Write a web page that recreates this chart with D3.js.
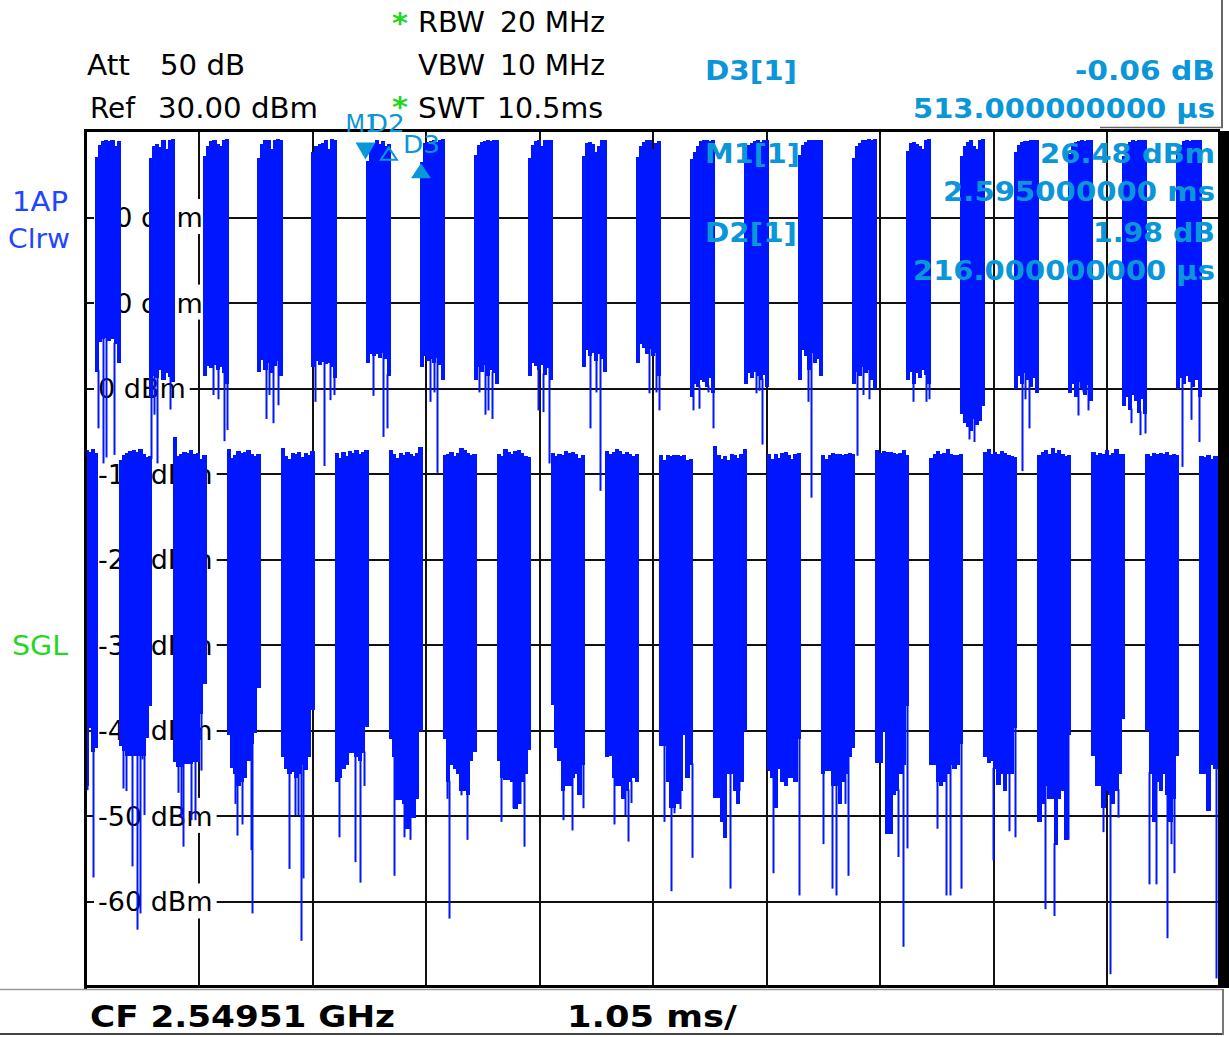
<!DOCTYPE html>
<html>
<head>
<meta charset="utf-8">
<script src="https://cdn.jsdelivr.net/npm/d3@7"></script>
<style>
  html, body { margin: 0; padding: 0; background: #fff; }
  svg { display: block; }
  text { font-family: "DejaVu Sans", Verdana, sans-serif; }
</style>
</head>
<body>
<svg id="chart" width="1229" height="1037"></svg>
<script>
// ---- Zero-span sweep: 10.5 ms, level axis -70 .. +30 dBm ----
const SWEEP_MS = [0, 10.5];
const LEVEL_DBM = [-70, 30];
const X_GRID_MS = [1.05, 2.1, 3.15, 4.2, 5.25, 6.3, 7.35, 8.4, 9.45];
const Y_GRID_DBM = [20, 10, 0, -10, -20, -30, -40, -50, -60];

// Strong bursts: [start ms, end ms]
const HIGH_SPAN = [[0.095,0.32],[0.595,0.82],[1.095,1.32],[1.595,1.82],[2.095,2.32],[2.595,2.82],[3.095,3.32],
  [3.595,3.82],[4.095,4.32],[4.595,4.82],[5.095,5.32],[5.595,5.82],[6.095,6.32],[6.595,6.82],[7.095,7.32],
  [7.595,7.82],[8.095,8.32],[8.595,8.82],[9.095,9.32],[9.595,9.82],[10.095,10.32]];
// Peak level of each column inside a strong burst (dBm)
const HIGH_TOP = [
  [27.0,28.4,28.8,28.9,28.8,28.9,28.3,28.8],[26.8,28.3,28.5,28.1,28.9,27.9,29.0,29.1],
  [27.1,28.3,28.8,28.9,28.5,28.3,29.0,29.1],[26.9,28.5,28.9,28.9,27.9,29.0,29.1,29.0],
  [27.6,28.2,28.5,28.6,28.9,27.9,29.1,29.0],[26.48,28.3,28.6,28.9,28.5,28.8,28.2,28.46],
  [26.42,28.6,28.7,28.8,28.9,28.7,29.0,29.1],[27.2,28.4,28.7,28.8,28.9,28.8,28.9,29.0],
  [26.9,28.4,28.8,28.9,28.2,28.9,29.0,29.0],[27.1,28.6,28.7,28.5,27.6,28.3,29.0,29.0],
  [27.0,28.2,28.7,28.9,28.9,27.9,28.6,28.8],[26.7,27.5,28.3,28.8,28.9,28.9,28.8,29.0],
  [27.0,28.4,28.6,28.8,28.9,28.7,28.9,29.0],[27.2,28.4,28.7,28.9,28.9,29.0,28.9,29.0],
  [26.9,28.2,28.6,28.9,29.0,29.1,29.0,29.1],[27.7,28.6,28.7,28.5,28.3,27.9,29.0,29.1],
  [27.1,28.3,28.7,28.9,28.2,27.9,29.0,29.1],[27.6,28.4,28.7,28.8,28.8,28.9,28.9,28.9],
  [27.3,28.3,28.7,28.8,28.9,28.8,28.9,29.0],[27.1,28.5,28.7,28.9,28.8,28.9,29.0,28.9],
  [27.2,28.4,28.8,28.9,28.8,28.9,28.9,29.0]];
// Minimum level of each column inside a strong burst (dBm)
const HIGH_FLOOR = [
  [2.0,5.5,5.8,5.9,5.6,5.8,5.2,3.0],[-1.0,1.5,1.2,2.2,1.0,1.8,1.4,0.8],
  [1.5,2.6,2.4,2.8,2.2,2.5,1.8,0.5],[2.0,3.4,2.2,3.0,1.8,2.6,3.2,1.5],
  [2.5,3.2,2.8,3.1,2.9,3.0,2.5,1.2],[3.0,4.1,3.8,4.0,3.6,4.2,3.5,1.5],
  [2.5,3.8,3.2,3.5,3.0,3.6,2.8,1.0],[1.0,2.5,2.0,2.8,1.5,2.2,1.8,0.5],
  [1.5,3.0,2.6,2.2,2.8,1.6,2.4,1.0],[2.5,4.5,3.8,4.2,3.2,4.0,3.5,2.0],
  [3.0,5.2,4.8,4.0,4.6,3.8,4.2,1.5],[-1.0,0.5,0.2,1.0,0.8,0.2,1.2,-0.5],
  [0.5,1.8,1.2,2.0,1.5,1.0,1.6,0.2],[1.0,4.5,3.8,2.2,4.2,3.0,3.5,1.5],
  [0.5,2.0,1.5,2.5,1.8,2.2,1.0,0.0],[1.0,2.0,0.5,1.8,1.2,2.2,1.6,0.5],
  [-3.0,-4.0,-4.5,-5.0,-3.5,-4.2,-3.8,-2.0],[0.0,1.5,0.5,1.8,1.0,0.2,1.2,-0.5],
  [-0.5,0.5,-1.0,0.8,0.0,-0.8,0.4,-1.5],[-2.0,-1.0,-2.5,-0.8,-1.5,-2.8,-1.2,-3.0],
  [0.0,1.2,0.5,1.5,0.8,0.2,1.0,-1.0]];

// Weak bursts: [start ms, end ms]
const LOW_SPAN = [[0,0.115],[0.31,0.615],[0.81,1.115],[1.31,1.615],[1.81,2.115],[2.31,2.615],[2.81,3.115],
  [3.31,3.615],[3.81,4.115],[4.31,4.615],[4.81,5.115],[5.31,5.615],[5.81,6.115],[6.31,6.615],[6.81,7.115],
  [7.31,7.615],[7.81,8.115],[8.31,8.615],[8.81,9.115],[9.31,9.615],[9.81,10.115],[10.31,10.5]];
const LOW_TOP = [
  [-7.3,-7.5,-7.2,-7.6],
  [-8.4,-7.9,-7.6,-7.4,-7.3,-7.5,-7.2,-7.8,-8.1,-8.0],[-5.8,-8.0,-7.7,-7.5,-7.6,-7.3,-7.8,-7.6,-8.3,-7.9],
  [-7.2,-8.2,-7.9,-7.4,-7.6,-7.5,-7.3,-7.7,-8.0,-7.8],[-7.1,-8.0,-8.3,-7.6,-7.8,-7.5,-8.1,-7.6,-7.9,-7.4],
  [-7.6,-8.2,-7.5,-8.0,-7.4,-7.6,-7.3,-7.8,-7.5,-7.3],[-7.3,-7.8,-8.2,-7.6,-7.9,-7.5,-7.7,-8.0,-7.6,-6.9],
  [-7.9,-7.7,-7.5,-8.0,-7.6,-7.1,-7.3,-7.6,-7.9,-7.8],[-7.8,-8.0,-7.2,-7.5,-7.8,-7.4,-7.3,-7.6,-8.0,-8.1],
  [-7.6,-8.0,-7.7,-7.9,-7.4,-7.6,-7.5,-7.8,-8.2,-7.9],[-7.4,-7.8,-7.5,-7.2,-7.4,-7.7,-7.5,-7.8,-8.0,-7.7],
  [-7.9,-8.4,-7.9,-8.0,-7.9,-7.9,-8.0,-7.9,-8.4,-8.3],[-6.8,-7.9,-8.3,-8.0,-8.4,-7.7,-7.9,-8.2,-7.7,-7.2],
  [-7.7,-8.3,-7.8,-8.2,-7.6,-7.5,-7.9,-8.3,-7.8,-7.6],[-7.9,-8.3,-7.9,-7.6,-7.8,-7.7,-7.9,-7.8,-7.6,-7.8],
  [-7.3,-7.6,-7.4,-7.5,-7.5,-7.6,-7.8,-7.6,-7.3,-7.9],[-8.2,-7.7,-7.4,-7.8,-7.6,-7.2,-7.7,-7.9,-7.9,-7.8],
  [-7.5,-7.2,-7.7,-7.5,-7.8,-7.4,-7.6,-7.9,-8.0,-8.1],[-7.9,-7.5,-7.3,-7.8,-7.1,-7.6,-7.3,-7.8,-8.0,-7.9],
  [-7.5,-7.9,-7.6,-7.8,-7.3,-7.9,-7.6,-7.2,-7.8,-7.7],[-7.8,-8.0,-7.6,-7.8,-7.6,-7.8,-7.5,-7.9,-7.7,-7.9],
  [-8.0,-8.1,-7.9,-8.3,-8.0,-8.4]];
const LOW_FLOOR = [
  [-46.5,-39.7,-42.5,-42.0],
  [-41.8,-42.3,-42.9,-42.9,-42.9,-42.9,-42.9,-42.9,-40.8,-37.1],
  [-43.6,-44.2,-44.2,-43.9,-43.9,-43.9,-43.6,-43.6,-38.0,-34.5],
  [-40.5,-44.4,-45.0,-46.5,-46.0,-45.5,-43.5,-41.5,-40.2,-35.0],
  [-43.0,-44.5,-45.0,-44.8,-45.5,-45.0,-44.0,-44.6,-43.0,-37.6],
  [-46.0,-45.5,-44.5,-44.0,-42.6,-42.6,-43.0,-43.5,-42.6,-39.5],
  [-40.9,-43.0,-48.1,-48.1,-48.5,-51.5,-50.2,-50.2,-48.0,-40.0],
  [-41.0,-46.0,-44.0,-44.5,-45.0,-47.0,-47.0,-47.5,-43.5,-42.5],
  [-43.5,-45.5,-45.8,-45.8,-46.0,-49.1,-48.5,-46.0,-45.0,-42.2],
  [-37.0,-42.0,-43.5,-47.0,-46.5,-46.5,-45.5,-45.0,-47.5,-44.0],
  [-43.0,-42.9,-45.5,-46.5,-46.5,-48.0,-47.0,-46.0,-45.5,-46.0],
  [-41.8,-41.8,-46.0,-49.0,-49.0,-48.5,-47.0,-40.5,-45.5,-44.0],
  [-47.8,-47.8,-50.7,-52.5,-45.0,-45.0,-47.0,-48.5,-46.0,-40.0],
  [-44.7,-45.5,-49.0,-44.5,-46.0,-46.5,-45.5,-45.5,-46.0,-41.0],
  [-45.0,-44.7,-44.7,-46.5,-46.5,-48.5,-46.0,-45.0,-43.0,-42.0],
  [-43.8,-43.8,-40.0,-52.0,-52.0,-47.5,-47.0,-45.0,-44.0,-37.1],
  [-44.0,-44.0,-46.0,-46.5,-46.0,-45.0,-44.0,-44.5,-44.0,-41.5],
  [-43.0,-43.8,-43.5,-44.5,-46.3,-45.0,-47.0,-45.0,-45.0,-39.7],
  [-50.7,-48.6,-46.5,-48.0,-48.0,-53.3,-48.0,-47.0,-52.8,-40.5],
  [-42.9,-46.5,-46.5,-49.0,-47.0,-47.5,-48.5,-47.0,-45.0,-38.6],
  [-40.0,-45.0,-50.7,-46.0,-47.0,-45.0,-47.5,-50.7,-48.0,-42.9],
  [-45.0,-45.0,-49.4,-44.0,-44.5,-44.0]];

// Single-sample dips below the burst bodies: [time ms, dBm]
const DIPS = [
  [0.017,-47.0],[0.074,-57.2],
  [0.118,-4.7],[0.162,-8.8],[0.192,-8.1],[0.264,-7.8],
  [0.355,-46.8],[0.378,-47.1],[0.439,-55.9],[0.483,-63.3],[0.506,-61.4],[0.530,-43.4],[0.550,-49.9],
  [0.608,-8.3],[0.641,-3.1],[0.665,-8.8],[0.784,-2.5],
  [0.861,-47.3],[0.885,-50.2],[0.905,-53.6],[0.979,-50.5],[1.013,-50.5],[1.074,-44.7],
  [1.181,-0.8],[1.226,-1.3],[1.283,-6.2],[1.310,-4.9],
  [1.384,-48.6],[1.408,-52.3],[1.452,-51.0],[1.537,-54.0],[1.543,-61.4],
  [1.672,-3.6],[1.705,-0.8],[1.739,-4.1],[1.785,-2.0],
  [1.891,-56.2],[1.942,-49.9],[1.968,-49.9],[2.002,-64.6],[2.019,-57.3],
  [2.128,-1.6],[2.211,-9.1],[2.262,-1.4],[2.300,-0.8],
  [2.354,-52.5],[2.499,-55.4],[2.542,-57.8],[2.583,-46.5],
  [2.667,-0.9],[2.761,-5.7],[2.796,-4.7],
  [2.863,-57.0],[2.947,-52.5],[3.005,-52.8],
  [3.191,-1.6],[3.231,-0.5],[3.258,-9.9],
  [3.353,-48.0],[3.366,-62.0],[3.478,-47.6],[3.532,-52.8],
  [3.647,-0.5],[3.697,-3.1],[3.731,-2.6],[3.765,-3.6],
  [3.849,-50.7],[3.960,-49.1],[4.028,-48.6],[4.061,-53.6],
  [4.187,-2.6],[4.237,-2.8],[4.288,-8.8],
  [4.423,-50.5],[4.507,-51.7],[4.609,-49.1],
  [4.676,-4.7],[4.727,-0.5],[4.760,-12.0],
  [4.896,-51.0],[4.997,-49.9],[5.021,-53.0],[5.050,-48.5],
  [5.217,-0.6],[5.286,-0.5],[5.310,-2.6],
  [5.355,-50.7],[5.423,-58.8],[5.446,-49.7],[5.502,-49.2],[5.611,-54.9],
  [5.627,-2.6],[5.678,-2.4],[5.763,-0.5],[5.808,-4.7],
  [5.920,-52.5],[5.969,-58.5],[6.054,-47.1],
  [6.207,-0.6],[6.231,-0.3],[6.259,-6.6],
  [6.361,-56.7],[6.389,-48.6],[6.601,-59.3],
  [6.686,-1.6],[6.720,-12.8],
  [6.823,-53.3],[6.908,-58.5],[6.952,-59.3],[7.034,-48.6],[7.062,-57.0],
  [7.146,-7.9],[7.197,-0.8],[7.249,-1.3],
  [7.522,-54.8],[7.563,-65.3],[7.601,-53.8],
  [7.659,-1.6],[7.778,-1.6],[7.812,-1.3],
  [7.880,-51.5],[7.966,-59.3],[8.000,-59.3],[8.102,-58.5],
  [8.178,-6.0],[8.222,-6.3],
  [8.403,-55.2],[8.546,-51.8],[8.607,-52.5],
  [8.665,-9.7],[8.699,-1.3],[8.734,-4.7],
  [8.881,-60.9],[8.966,-61.7],[8.990,-53.3],[9.092,-52.8],
  [9.188,-3.2],[9.229,-0.5],[9.280,-2.6],
  [9.416,-51.9],[9.485,-68.5],[9.554,-50.2],
  [9.673,-4.1],[9.758,-5.5],[9.810,-5.3],
  [9.843,-58.0],[9.905,-58.0],[10.007,-64.3],[10.048,-53.3],[10.075,-56.7],
  [10.150,-9.2],[10.235,-3.7],[10.310,-6.3],
  [10.383,-49.4],[10.465,-69.0]];

// Markers: reference marker M1 and delta markers D2, D3 (times in ms, levels in dBm)
const M1 = { t: 2.595, level: 26.48 };
const DELTAS = [
  { name: "D2", dt: 0.216, dB: 1.98, hollow: true },
  { name: "D3", dt: 0.513, dB: -0.06, hollow: false }
];

// ---- setup ----
const svg = d3.select("#chart");
const BLUE = "#0016ff", MK = "#0a96d8", GREEN = "#1fd81f", LBLUE = "#1e46ff";
const x = d3.scaleLinear().domain(SWEEP_MS).range([85, 1220]);
const y = d3.scaleLinear().domain(LEVEL_DBM).range([987, 131.5]);

function label(g, s, px, py, o) {
  const t = g.append("text").attr("x", px).attr("y", py).text(s)
    .attr("font-size", o.size || 27)
    .attr("font-weight", o.bold ? "bold" : "normal")
    .attr("fill", o.fill || "#000")
    .attr("text-anchor", o.anchor || "start");
  if (o.len) t.attr("textLength", o.len).attr("lengthAdjust", "spacingAndGlyphs");
  return t;
}

// ---- grid (axes used as gridlines) ----
const grid = svg.append("g");
grid.append("g").attr("transform", `translate(0,${y(LEVEL_DBM[1])})`)
  .call(d3.axisBottom(x).tickValues(X_GRID_MS).tickSize(y(LEVEL_DBM[0]) - y(LEVEL_DBM[1])).tickFormat(""))
  .call(g => g.select(".domain").remove());
grid.append("g").attr("transform", `translate(${x(SWEEP_MS[0])},0)`)
  .call(d3.axisRight(y).tickValues(Y_GRID_DBM).tickSize(x(SWEEP_MS[1]) - x(SWEEP_MS[0])).tickFormat(""))
  .call(g => g.select(".domain").remove());
grid.selectAll(".tick line").attr("stroke", "#111").attr("stroke-width", 2).attr("shape-rendering", "crispEdges");

// level labels with white backing
const lab = svg.append("g");
Y_GRID_DBM.forEach(v => {
  const bg = lab.append("rect").attr("fill", "#fff");
  const t = label(lab, `${v} dBm`, 98, y(v) + 10, { size: 27 });
  const w = t.node().getComputedTextLength();
  bg.attr("x", 94).attr("y", y(v) - 18).attr("width", w + 8).attr("height", 35);
});

// ---- trace ----
svg.append("clipPath").attr("id", "plotclip").append("rect")
  .attr("x", x(SWEEP_MS[0])).attr("y", y(LEVEL_DBM[1]))
  .attr("width", x(SWEEP_MS[1]) - x(SWEEP_MS[0])).attr("height", y(LEVEL_DBM[0]) - y(LEVEL_DBM[1]));
const trace = svg.append("g").attr("clip-path", "url(#plotclip)");

// one stepped outline per burst: max level on top, min level at the bottom
function burstSteps(spans, tops, floors) {
  return spans.map((s, i) => {
    const n = tops[i].length, w = (s[1] - s[0]) / n;
    const pts = tops[i].map((tv, j) => ({ t: s[0] + j * w, top: tv, floor: floors[i][j] }));
    pts.push({ t: s[1], top: tops[i][n - 1], floor: floors[i][n - 1] });
    return pts;
  });
}
const bursts = burstSteps(HIGH_SPAN, HIGH_TOP, HIGH_FLOOR).concat(burstSteps(LOW_SPAN, LOW_TOP, LOW_FLOOR));
const body = d3.area().curve(d3.curveStepAfter)
  .x(d => Math.round(x(d.t))).y0(d => y(d.floor)).y1(d => y(d.top));
trace.selectAll("path.burst").data(bursts).join("path").attr("class", "burst")
  .attr("d", body).attr("fill", BLUE).attr("stroke", BLUE).attr("stroke-width", 1)
  .attr("shape-rendering", "crispEdges");

// dips hang from the body column that contains them
const cols = [];
bursts.forEach(b => b.slice(0, -1).forEach((d, j) => cols.push({ t0: d.t, t1: b[j + 1].t, floor: d.floor })));
const dipLines = DIPS.map(([t, v]) => {
  const host = cols.filter(c => t >= c.t0 && t <= c.t1 && c.floor > v).sort((a, b) => a.floor - b.floor)[0];
  return host ? { t, from: host.floor, to: v } : null;
}).filter(Boolean);
trace.selectAll("line.dip").data(dipLines).join("line").attr("class", "dip")
  .attr("x1", d => Math.round(x(d.t)) + 0.5).attr("x2", d => Math.round(x(d.t)) + 0.5)
  .attr("y1", d => y(d.from) - 1).attr("y2", d => y(d.to))
  .attr("stroke", BLUE).attr("stroke-width", 2);

// ---- frame ----
const fr = svg.append("g").attr("fill", "#000");
fr.append("rect").attr("x", 84).attr("y", 129).attr("width", 1136).attr("height", 3);
fr.append("rect").attr("x", 84).attr("y", 129).attr("width", 3).attr("height", 860);
fr.append("rect").attr("x", 84).attr("y", 985).attr("width", 1136).attr("height", 3);
fr.append("rect").attr("x", 1218).attr("y", 131).attr("width", 11).attr("height", 857);
svg.append("line").attr("x1", 1222).attr("x2", 1222).attr("y1", 0).attr("y2", 128).attr("stroke", "#666").attr("stroke-width", 2);
svg.append("line").attr("x1", 1100).attr("x2", 1223).attr("y1", 127.5).attr("y2", 127.5).attr("stroke", "#666").attr("stroke-width", 1.5);
// footer box
svg.append("line").attr("x1", 0).attr("x2", 1223).attr("y1", 989.5).attr("y2", 989.5).attr("stroke", "#999").attr("stroke-width", 1.5);
svg.append("line").attr("x1", 0).attr("x2", 1224).attr("y1", 1034).attr("y2", 1034).attr("stroke", "#444").attr("stroke-width", 2);
svg.append("line").attr("x1", 1223).attr("x2", 1223).attr("y1", 989).attr("y2", 1035).attr("stroke", "#777").attr("stroke-width", 2);

// ---- markers ----
const mk = svg.append("g");
const mx = x(M1.t), my = y(M1.level);
mk.append("path").attr("d", `M${mx - 10},${my - 19}L${mx + 10},${my - 19}L${mx},${my - 2}Z`).attr("fill", MK);
label(mk, "M1", mx - 20, my - 30, { size: 25, fill: MK, len: 34 });
DELTAS.forEach(d => {
  const dx = x(M1.t + d.dt), dy = y(M1.level + d.dB);
  if (d.hollow) {
    mk.append("path").attr("d", `M${dx},${dy + 3}L${dx + 8},${dy + 15}L${dx - 8},${dy + 15}Z`)
      .attr("fill", "none").attr("stroke", MK).attr("stroke-width", 2);
    label(mk, d.name, dx - 21, dy - 13, { size: 25, fill: MK, len: 37 });
  } else {
    mk.append("path").attr("d", `M${dx},${dy + 1}L${dx + 10},${dy + 16}L${dx - 10},${dy + 16}Z`).attr("fill", MK);
    label(mk, d.name, dx - 18, dy - 9, { size: 25, fill: MK, len: 37 });
  }
});

// ---- header ----
const hd = svg.append("g");
label(hd, "Att", 87, 75, { size: 28, len: 43 });
label(hd, "50 dB", 160, 75, { size: 28, len: 85 });
label(hd, "Ref", 90, 118, { size: 28, len: 45 });
label(hd, "30.00 dBm", 158, 118, { size: 28, len: 160 });
label(hd, "*", 392, 33, { size: 28, bold: true, fill: GREEN, len: 16 });
label(hd, "RBW", 418, 32, { size: 28, len: 67 });
label(hd, "20 MHz", 500, 32, { size: 28, len: 105 });
label(hd, "VBW", 418, 75, { size: 28, len: 67 });
label(hd, "10 MHz", 500, 75, { size: 28, len: 105 });
label(hd, "*", 392, 117, { size: 28, bold: true, fill: GREEN, len: 16 });
label(hd, "SWT", 418, 118, { size: 28, len: 66 });
label(hd, "10.5ms", 497, 118, { size: 28, len: 106 });

// marker readouts
const rd = svg.append("g");
const RD = { size: 27, bold: true, fill: MK };
label(rd, "D3[1]", 705, 80, { ...RD, len: 92 });
label(rd, `${DELTAS[1].dB.toFixed(2)} dB`, 1215, 80, { ...RD, anchor: "end", len: 140 });
label(rd, `${(DELTAS[1].dt * 1000).toFixed(9)} µs`, 1215, 118, { ...RD, anchor: "end", len: 302 });
label(rd, "M1[1]", 705, 163, { ...RD, len: 95 });
label(rd, `${M1.level.toFixed(2)} dBm`, 1215, 163, { ...RD, anchor: "end", len: 175 });
label(rd, `${M1.t.toFixed(9)} ms`, 1215, 201, { ...RD, anchor: "end", len: 272 });
label(rd, "D2[1]", 705, 242, { ...RD, len: 92 });
label(rd, `${DELTAS[0].dB.toFixed(2)} dB`, 1215, 242, { ...RD, anchor: "end", len: 122 });
label(rd, `${(DELTAS[0].dt * 1000).toFixed(9)} µs`, 1215, 280, { ...RD, anchor: "end", len: 302 });

// side labels
label(svg, "1AP", 12, 211, { size: 27, fill: LBLUE, len: 56 });
label(svg, "Clrw", 8, 248, { size: 27, fill: LBLUE, len: 62 });
label(svg, "SGL", 12, 655, { size: 27, fill: GREEN, len: 56 });

// footer
label(svg, "CF  2.54951 GHz", 90, 1027, { size: 30, bold: true, len: 305 });
label(svg, "1.05 ms/", 567, 1027, { size: 30, bold: true, len: 170 });
</script>
</body>
</html>
